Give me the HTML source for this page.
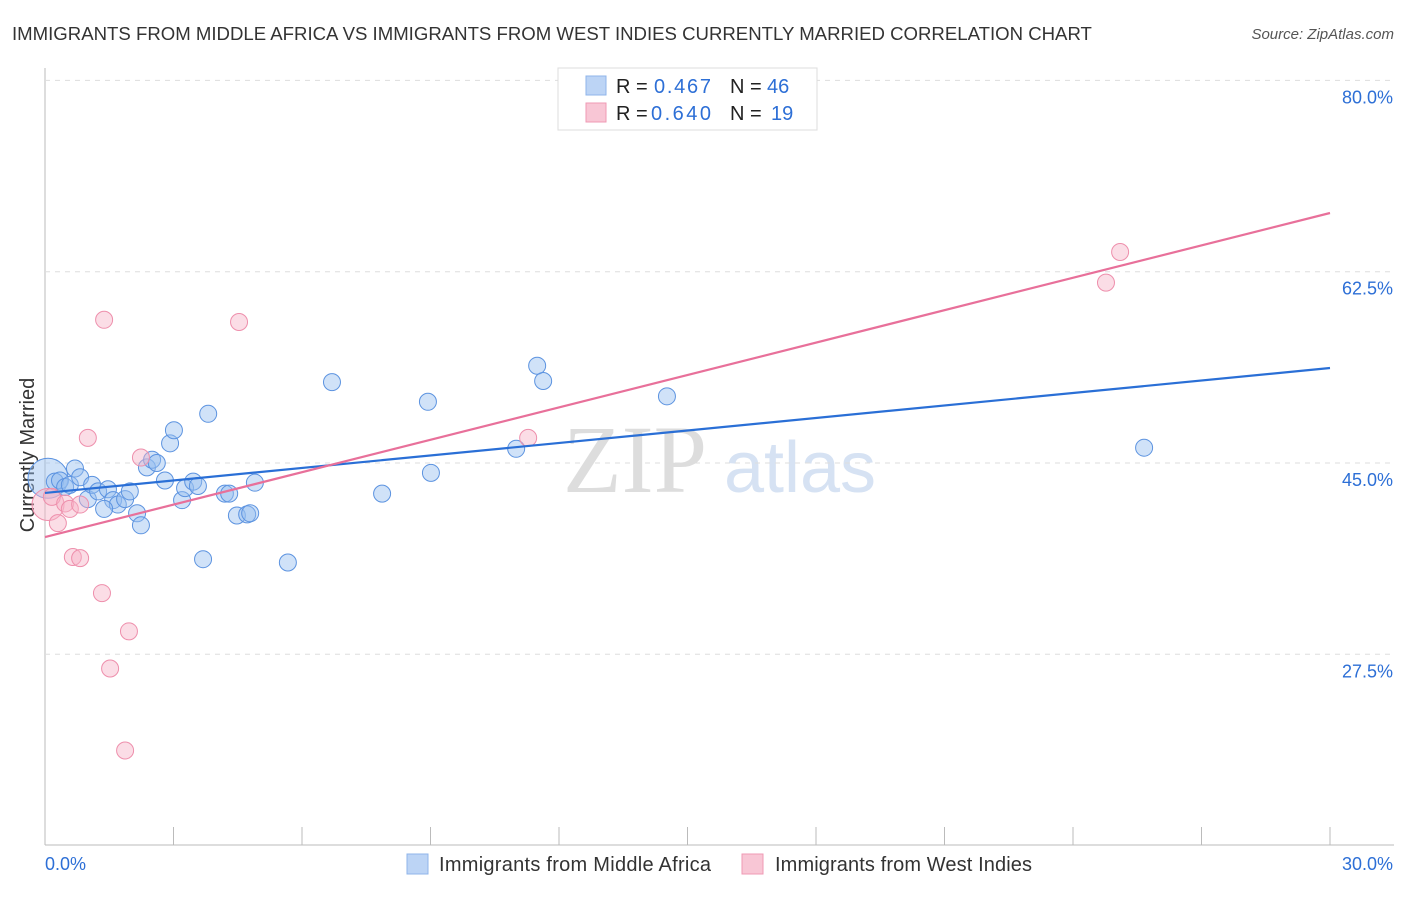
<!DOCTYPE html>
<html><head><meta charset="utf-8"><style>
body{margin:0;background:#fff;font-family:"Liberation Sans",sans-serif}
</style></head><body>
<svg id="c" width="1406" height="892" xmlns="http://www.w3.org/2000/svg">
<text x="12" y="40" font-size="18.6" fill="#333">IMMIGRANTS FROM MIDDLE AFRICA VS IMMIGRANTS FROM WEST INDIES CURRENTLY MARRIED CORRELATION CHART</text>
<text x="1394" y="39" font-size="15" fill="#555" text-anchor="end" font-style="italic">Source: ZipAtlas.com</text>
<text x="635" y="492" font-size="96" fill="#ddd" font-family="Liberation Serif" text-anchor="middle">ZIP</text>
<text x="800" y="492" font-size="72" fill="#d6e2f3" text-anchor="middle">atlas</text>
<text transform="translate(34,455) rotate(-90)" font-size="20" fill="#333" text-anchor="middle">Currently Married</text>
<g id="grid"></g><g id="pts"></g><g id="lines"></g>
<rect x="558" y="68" width="259" height="62" fill="#fff" stroke="#ddd"/>
<rect x="586" y="76" width="20" height="19" fill="#bcd4f5" stroke="#8fb4ea"/>
<rect x="586" y="103" width="20" height="19" fill="#f8c6d5" stroke="#ef9ab4"/>
<text y="93" font-size="20" fill="#222"><tspan x="616">R =</tspan><tspan x="654" fill="#2d6fd6" textLength="57">0.467</tspan><tspan x="730">N =</tspan><tspan x="767" fill="#2d6fd6">46</tspan></text>
<text y="120" font-size="20" fill="#222"><tspan x="616">R =</tspan><tspan x="651" fill="#2d6fd6" textLength="60">0.640</tspan><tspan x="730">N =</tspan><tspan x="771" fill="#2d6fd6">19</tspan></text>
<rect x="407" y="854" width="21" height="20" fill="#bcd4f5" stroke="#8fb4ea"/>
<text x="439" y="871" font-size="20" fill="#333" textLength="272">Immigrants from Middle Africa</text>
<rect x="742" y="854" width="21" height="20" fill="#f8c6d5" stroke="#ef9ab4"/>
<text x="775" y="871" font-size="20" fill="#333" textLength="257">Immigrants from West Indies</text>
</svg>
<script>
const xTicks=[0,3,6,9,12,15,18,21,24,27,30];
const yTicks=[80,62.5,45,27.5];
const blueX=[0.07,0.23,0.35,0.47,0.58,0.70,0.82,1.00,1.10,1.24,1.47,1.59,1.70,1.38,1.87,1.98,2.15,2.24,2.38,2.50,2.61,2.80,2.92,3.01,3.20,3.27,3.46,3.57,3.81,4.20,4.30,4.48,4.72,4.79,4.90,3.69,5.67,6.70,7.87,8.94,9.01,11.0,11.49,11.63,14.52,25.66];
const blueY=[43.6,43.3,43.4,42.8,43.0,44.5,43.7,41.7,43.0,42.4,42.6,41.6,41.2,40.8,41.7,42.4,40.4,39.3,44.6,45.3,45.0,43.4,46.8,48.0,41.6,42.7,43.3,42.9,49.5,42.2,42.2,40.2,40.3,40.4,43.2,36.2,35.9,52.4,42.2,50.6,44.1,46.3,53.9,52.5,51.1,46.4];
const pinkX=[0.07,0.16,0.30,0.47,0.58,0.82,1.00,0.65,0.82,1.33,1.38,1.52,1.87,1.96,2.24,4.53,11.28,24.77,25.10];
const pinkY=[41.2,41.9,39.5,41.3,40.8,41.2,47.3,36.4,36.3,33.1,58.1,26.2,18.7,29.6,45.5,57.9,47.3,61.5,64.3];
const blueTrend=[42.26,53.69];
const pinkTrend=[38.23,67.87];
const NS="http://www.w3.org/2000/svg";
const X=v=>45+v*(1285/30);
const Y=v=>463-(v-45)*(191.3/17.5);
function mk(t,a,p){const e=document.createElementNS(NS,t);for(const k in a)e.setAttribute(k,a[k]);document.getElementById(p).appendChild(e);return e;}
let e=mk('line',{x1:45,y1:68,x2:45,y2:845,stroke:'#bbb'},'grid');


e=mk('line',{x1:45,y1:845,x2:1394,y2:845,stroke:'#bbb'},'grid');


yTicks.forEach(t=>{
 e=mk('line',{x1:45,y1:Y(t),x2:1394,y2:Y(t),stroke:'#ddd','stroke-dasharray':'5,5'},'grid');
 
 
 e=mk('text',{x:1393,y:Y(t)+23,'font-size':18,fill:'#2d6fd6','text-anchor':'end'},'grid');e.textContent=t.toFixed(1)+'%';
 
 
});
xTicks.forEach(t=>{
 e=mk('line',{x1:X(t),y1:827,x2:X(t),y2:845,stroke:'#bbb'},'grid');
 
 
});
e=mk('text',{x:45,y:870,'font-size':18,fill:'#2d6fd6'},'grid');e.textContent='0.0%';


e=mk('text',{x:1393,y:870,'font-size':18,fill:'#2d6fd6','text-anchor':'end'},'grid');e.textContent='30.0%';


blueX.forEach((v,i)=>{
 e=mk('circle',{cx:X(v),cy:Y(blueY[i]),r:i==0?20:8.5,fill:'rgba(150,190,240,0.45)',stroke:'#5c93e0','stroke-width':1},'pts');
 
 
});
pinkX.forEach((v,i)=>{
 e=mk('circle',{cx:X(v),cy:Y(pinkY[i]),r:i==0?16:8.5,fill:'rgba(246,180,200,0.45)',stroke:'#ee8fac','stroke-width':1},'pts');
 
 
});
e=mk('line',{x1:X(0),y1:Y(blueTrend[0]),x2:X(30),y2:Y(blueTrend[1]),stroke:'#2a6fd6','stroke-width':2.2},'lines');


e=mk('line',{x1:X(0),y1:Y(pinkTrend[0]),x2:X(30),y2:Y(pinkTrend[1]),stroke:'#e8709a','stroke-width':2.2},'lines');


</script>
</body></html>
